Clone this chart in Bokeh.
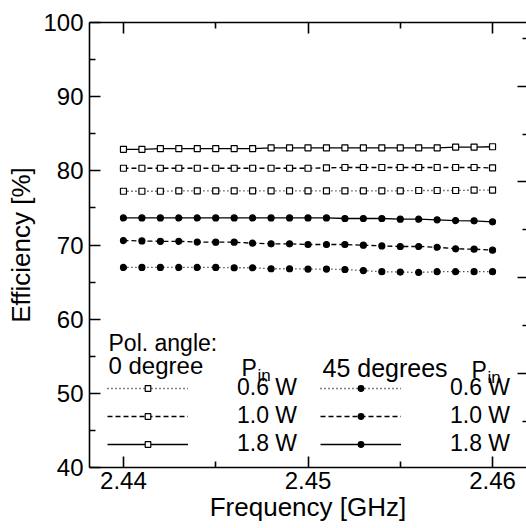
from bokeh.plotting import figure
from bokeh.models import (Range1d, LinearAxis, FixedTicker, Legend, LegendItem, Label,
                          CustomJSTickFormatter)
from bokeh.embed import file_html
from bokeh.resources import INLINE

# ---------------- data ----------------
freq_ghz = [2.440, 2.441, 2.442, 2.443, 2.444, 2.445, 2.446, 2.447, 2.448, 2.449, 2.450,
            2.451, 2.452, 2.453, 2.454, 2.455, 2.456, 2.457, 2.458, 2.459, 2.460]

eff_0deg_06w = [77.25, 77.25, 77.25, 77.3, 77.3, 77.3, 77.3, 77.3, 77.3, 77.3, 77.3,
                77.3, 77.3, 77.3, 77.3, 77.3, 77.35, 77.35, 77.35, 77.4, 77.4]
eff_0deg_10w = [80.35, 80.35, 80.35, 80.35, 80.35, 80.35, 80.35, 80.35, 80.35, 80.35, 80.35,
                80.4, 80.45, 80.45, 80.45, 80.45, 80.45, 80.45, 80.45, 80.45, 80.4]
eff_0deg_18w = [82.9, 82.9, 83.0, 83.0, 83.0, 83.0, 83.0, 83.0, 83.1, 83.1, 83.1,
                83.1, 83.1, 83.1, 83.1, 83.1, 83.1, 83.1, 83.2, 83.2, 83.25]

eff_45deg_06w = [66.97, 66.97, 66.97, 66.97, 66.97, 66.97, 66.93, 66.93, 66.8, 66.8, 66.75,
                 66.75, 66.7, 66.55, 66.4, 66.35, 66.3, 66.4, 66.4, 66.4, 66.4]
eff_45deg_10w = [70.6, 70.55, 70.5, 70.5, 70.4, 70.38, 70.38, 70.24, 70.16, 70.16, 70.07,
                 70.07, 70.07, 69.97, 69.88, 69.8, 69.8, 69.7, 69.48, 69.44, 69.3]
eff_45deg_18w = [73.65, 73.65, 73.65, 73.65, 73.65, 73.65, 73.65, 73.65, 73.65, 73.65, 73.65,
                 73.65, 73.57, 73.57, 73.57, 73.48, 73.48, 73.39, 73.3, 73.26, 73.13]

x_ticks = [2.44, 2.45, 2.46]
x_minor_ticks = [2.445, 2.455]
y_ticks = [40, 50, 60, 70, 80, 90, 100]
y_minor_ticks = [45, 55, 65, 75, 85, 95]

FONT = "Liberation Sans"
X_START, X_END = 2.43816, 2.46184
Y_START, Y_END = 40, 100

# frame geometry in page pixels (used only to place legend header texts)
FL, FT, FW, FH = 89, 22, 437, 445


def px2x(px):
    return X_START + (px - FL) * (X_END - X_START) / FW


def px2y(py):
    return Y_END - (py - FT) * (Y_END - Y_START) / FH


p = figure(width=526, height=528, output_backend="svg", toolbar_location=None,
           x_range=Range1d(X_START, X_END), y_range=Range1d(Y_START, Y_END),
           min_border_left=89, min_border_top=22, min_border_right=0, min_border_bottom=61,
           x_axis_location=None, y_axis_location=None)
p.outline_line_color = None
p.xgrid.visible = False
p.ygrid.visible = False
p.background_fill_color = "white"
p.border_fill_color = "white"

AX_W = 1.6


def style_axis(ax, labels=True):
    ax.axis_line_width = AX_W
    ax.axis_line_color = "black"
    ax.major_tick_line_width = AX_W
    ax.minor_tick_line_width = AX_W
    ax.major_tick_out = 0
    ax.minor_tick_out = 0
    ax.major_tick_line_color = "black"
    ax.minor_tick_line_color = "black"
    ax.major_label_text_font = FONT
    ax.major_label_text_font_size = "24px"
    ax.major_label_text_color = "black"
    ax.axis_label_text_font = FONT
    ax.axis_label_text_font_style = "normal"
    ax.axis_label_text_color = "black"
    if not labels:
        ax.formatter = CustomJSTickFormatter(code="return ''")
        ax.major_label_text_font_size = "1px"
        ax.major_label_standoff = 0


# bottom axis
xb = LinearAxis(ticker=FixedTicker(ticks=x_ticks, minor_ticks=x_minor_ticks),
                axis_label="Frequency [GHz]")
style_axis(xb)
xb.major_tick_in = 11
xb.minor_tick_in = 6
xb.major_label_standoff = 4
xb.major_label_overrides = {2.44: "2.44", 2.45: "2.45", 2.46: "2.46"}
xb.axis_label_text_font_size = "26px"
xb.axis_label_standoff = 0
p.add_layout(xb, "below")

# top axis
xt = LinearAxis(ticker=FixedTicker(ticks=x_ticks, minor_ticks=x_minor_ticks))
style_axis(xt, labels=False)
xt.major_tick_in = 11
xt.minor_tick_in = 6
p.add_layout(xt, "above")

# left axis
yl = LinearAxis(ticker=FixedTicker(ticks=y_ticks, minor_ticks=y_minor_ticks),
                axis_label="Efficiency [%]")
style_axis(yl)
yl.major_tick_in = 11
yl.minor_tick_in = 6
yl.major_label_standoff = 6
yl.axis_label_text_font_size = "26px"
yl.axis_label_standoff = 4
p.add_layout(yl, "left")

# right axis (ticks only, edge of the scanned panel)
p.extra_y_ranges = {"r": Range1d(0.019, 4.664)}
yr = LinearAxis(y_range_name="r",
                ticker=FixedTicker(ticks=[1, 2, 3, 4], minor_ticks=[0.5, 1.5, 2.5, 3.5, 4.5]))
style_axis(yr, labels=False)
yr.axis_line_color = None
yr.major_tick_in = 9
yr.minor_tick_in = 4
p.add_layout(yr, "right")

LW = 1.3
DOT = "1 3"
DASH = "5 3"

series = [
    (eff_0deg_06w, DOT, "square", "white"),
    (eff_0deg_10w, DASH, "square", "white"),
    (eff_0deg_18w, "solid", "square", "white"),
    (eff_45deg_06w, DOT, "circle", "black"),
    (eff_45deg_10w, DASH, "circle", "black"),
    (eff_45deg_18w, "solid", "circle", "black"),
]
rends = []
for ys, dash, marker, fill in series:
    lr = p.line(freq_ghz, ys, line_color="black", line_width=LW, line_dash=dash)
    sr = p.scatter(freq_ghz, ys, marker=marker, size=6, line_color="black",
                   line_width=1.2, fill_color=fill)
    rends.append((lr, sr))

power_labels = ["0.6 W", "1.0 W", "1.8 W"]


def make_legend(pairs, loc):
    items = [LegendItem(label=lab, renderers=[lr, sr]) for lab, (lr, sr) in zip(power_labels, pairs)]
    lg = Legend(items=items, location=loc, orientation="vertical",
                glyph_width=81, glyph_height=14, label_standoff=49,
                label_height=20, spacing=1, padding=0, margin=0,
                border_line_color=None, background_fill_alpha=0,
                label_text_font=FONT, label_text_font_size="23px", label_text_color="black")
    return lg


p.add_layout(make_legend(rends[0:3], (18, 10)))
p.add_layout(make_legend(rends[3:6], (231, 10)))


# legend header texts
def txt(px, py, s, size="23px"):
    p.add_layout(Label(x=px2x(px), y=px2y(py), text=s, text_font=FONT, text_font_size=size,
                       text_baseline="alphabetic", text_align="left", text_color="black"))


txt(108, 342, "Pol. angle:")
txt(108, 365, "0 degree", "24px")
txt(241, 367, "P")
txt(257, 375, "in", "17px")
txt(322, 367, "45 degrees", "25px")
txt(471, 369, "P")
txt(487, 377, "in", "17px")

open("out.html", "w").write(file_html(p, INLINE))
